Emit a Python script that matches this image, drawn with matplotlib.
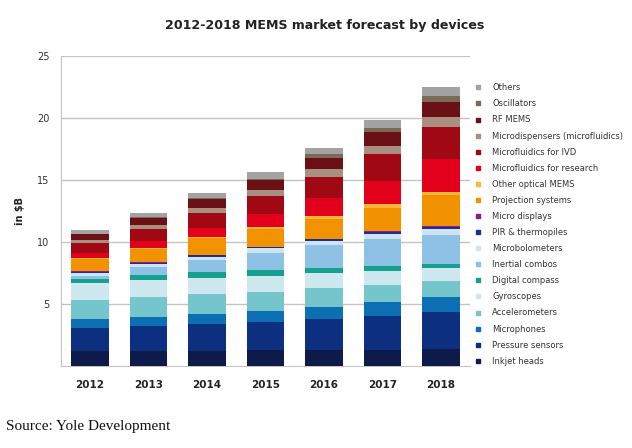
import numpy as np
import matplotlib
matplotlib.use('Agg')
import matplotlib.pyplot as plt
from matplotlib.lines import Line2D

years = ['2012', '2013', '2014', '2015', '2016', '2017', '2018']

# segment values in $B, bottom to top
inkjet_heads = [1.25, 1.25, 1.25, 1.33, 1.33, 1.33, 1.38]
pressure_sensors = [1.87, 2.03, 2.14, 2.22, 2.47, 2.73, 2.98]
microphones = [0.68, 0.73, 0.81, 0.94, 1.01, 1.10, 1.21]
accelerometers = [1.55, 1.58, 1.61, 1.50, 1.48, 1.40, 1.31]
gyroscopes = [1.34, 1.37, 1.34, 1.32, 1.21, 1.15, 1.02]
digital_compass = [0.38, 0.43, 0.48, 0.45, 0.45, 0.40, 0.37]
inertial_combos = [0.24, 0.64, 0.94, 1.40, 1.82, 2.12, 2.31]
microbolometers = [0.21, 0.22, 0.26, 0.35, 0.35, 0.40, 0.51]
pir_thermopiles = [0.08, 0.08, 0.12, 0.08, 0.11, 0.22, 0.16]
micro_displays = [0.08, 0.05, 0.05, 0.05, 0.05, 0.05, 0.08]
projection = [0.94, 1.05, 1.31, 1.40, 1.59, 1.88, 2.44]
other_optical = [0.11, 0.10, 0.13, 0.21, 0.26, 0.29, 0.27]
mf_research = [0.38, 0.57, 0.73, 1.02, 1.40, 1.88, 2.63]
mf_ivd = [0.80, 0.94, 1.15, 1.45, 1.74, 2.12, 2.62]
microdispensers = [0.27, 0.32, 0.41, 0.46, 0.60, 0.70, 0.81]
rf_mems = [0.48, 0.59, 0.75, 0.82, 0.93, 1.07, 1.18]
oscillators = [0.04, 0.05, 0.05, 0.08, 0.27, 0.37, 0.51]
others = [0.28, 0.32, 0.40, 0.54, 0.53, 0.62, 0.72]

series = [inkjet_heads, pressure_sensors, microphones, accelerometers, gyroscopes,
          digital_compass, inertial_combos, microbolometers, pir_thermopiles,
          micro_displays, projection, other_optical, mf_research, mf_ivd,
          microdispensers, rf_mems, oscillators, others]
labels = ['Inkjet heads', 'Pressure sensors', 'Microphones', 'Accelerometers',
          'Gyroscopes', 'Digital compass', 'Inertial combos', 'Microbolometers',
          'PIR & thermopiles', 'Micro displays', 'Projection systems',
          'Other optical MEMS', 'Microfluidics for research', 'Microfluidics for IVD',
          'Microdispensers (microfluidics)', 'RF MEMS', 'Oscillators', 'Others']
colors = ['#0d1a4a', '#0c2f80', '#0c6fb4', '#74c5cc', '#cde8ef', '#16a08f',
          '#8ec1e6', '#cfe4f3', '#1d2f8f', '#8e1b8e', '#f39200', '#ffb638',
          '#e2001a', '#a00914', '#a98f7f', '#6b1116', '#7b6a58', '#a3a3a3']

fig = plt.figure(figsize=(6.32, 4.48), dpi=100)
ax = fig.add_axes([0.096, 0.182, 0.648, 0.693])

x = np.arange(len(years))
bottom = np.zeros(len(years))
for vals, lab, col in zip(series, labels, colors):
    ax.bar(x, vals, width=0.64, bottom=bottom, color=col, label=lab, zorder=3)
    bottom += np.array(vals)

ax.set_xlim(-0.5, 6.5)
ax.set_ylim(0, 25)
ax.set_yticks([5, 10, 15, 20, 25])
ax.yaxis.grid(True, color='#c4c4c4', linewidth=1.0, zorder=0)
ax.set_axisbelow(True)
for s in ['top', 'right']:
    ax.spines[s].set_visible(False)
for s in ['left', 'bottom']:
    ax.spines[s].set_color('#c4c4c4')
ax.tick_params(axis='both', length=0)
ax.tick_params(axis='y', labelsize=7, colors='#333333', pad=8)
ax.set_xticks(x)
ax.set_xticklabels(years, fontsize=7.5, fontweight='bold', color='#222222')
ax.tick_params(axis='x', pad=10)
ax.set_ylabel('in \\$B', fontsize=7, fontweight='bold', color='#222222', labelpad=9)

fig.text(0.514, 0.942, '2012-2018 MEMS market forecast by devices', ha='center',
         va='center', fontsize=9.1, fontweight='bold', color='#222222')

handles = [Line2D([], [], marker='s', linestyle='none', markersize=3.2,
                  markerfacecolor=c, markeredgecolor=c) for c in colors]
fig.legend(handles[::-1], labels[::-1], loc='upper left',
           bbox_to_anchor=(0.751, 0.814), frameon=False, fontsize=6,
           labelspacing=0.85, handlelength=0.8, handletextpad=1.3,
           borderpad=0, borderaxespad=0, labelcolor='#333333')

fig.text(0.009, 0.048, 'Source: Yole Development', fontsize=11,
         family='Liberation Serif', color='#111111', va='center')

fig.savefig('out.png', dpi=100)
